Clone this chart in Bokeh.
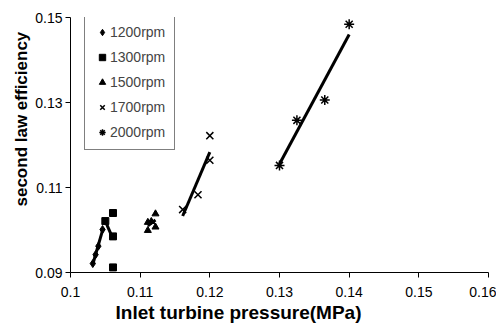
import numpy as np
from bokeh.plotting import figure
from bokeh.models import FixedTicker, Legend, LegendItem, Title, Range1d
from bokeh.embed import file_html
from bokeh.resources import INLINE

# ---- data ----
x_ticks = [0.10, 0.11, 0.12, 0.13, 0.14, 0.15, 0.16]
x_tick_labels = ["0.1", "0.11", "0.12", "0.13", "0.14", "0.15", "0.16"]
y_ticks = [0.09, 0.11, 0.13, 0.15]
y_tick_labels = ["0.09", "0.11", "0.13", "0.15"]

names = ["1200rpm", "1300rpm", "1500rpm", "1700rpm", "2000rpm"]

x_1200 = [0.1032, 0.1036, 0.1040, 0.1046]
y_1200 = [0.0921, 0.0942, 0.0962, 0.1001]

x_1300 = [0.1050, 0.1061, 0.1061, 0.1061]
y_1300 = [0.1021, 0.1040, 0.0985, 0.0912]

x_1500 = [0.1111, 0.1111, 0.1116, 0.1122, 0.1122]
y_1500 = [0.1018, 0.0999, 0.1020, 0.1038, 0.1007]

x_1700 = [0.1161, 0.1183, 0.1200, 0.1200]
y_1700 = [0.1048, 0.1083, 0.1164, 0.1222]

x_2000 = [0.1300, 0.1325, 0.1365, 0.1400]
y_2000 = [0.1152, 0.1258, 0.1306, 0.1484]

xs_all = [x_1200, x_1300, x_1500, x_1700, x_2000]
ys_all = [y_1200, y_1300, y_1500, y_1700, y_2000]
markers = ["diamond", "square", "triangle", "x", "asterisk"]
sizes = [8, 7, 7, 10, 10]

FONT = "Liberation Sans"

p = figure(width=496, height=323,
           x_range=Range1d(0.10, 0.16), y_range=Range1d(0.09, 0.15),
           output_backend="svg", toolbar_location=None,
           min_border_left=70, min_border_right=8,
           min_border_top=17, min_border_bottom=51)
p.outline_line_color = None
p.xgrid.visible = False
p.ygrid.visible = False
p.background_fill_color = "white"
p.border_fill_color = "white"

for ax, ticks, labels in ((p.xaxis[0], x_ticks, x_tick_labels), (p.yaxis[0], y_ticks, y_tick_labels)):
    ax.ticker = FixedTicker(ticks=ticks)
    ax.major_label_overrides = {t: l for t, l in zip(ticks, labels)}
    ax.minor_tick_line_color = None
    ax.major_tick_in = 0
    ax.major_tick_out = 5
    ax.axis_line_color = "black"
    ax.major_tick_line_color = "black"
    ax.major_label_text_font = FONT
    ax.major_label_text_font_size = "14px"
    ax.major_label_text_color = "black"
p.xaxis.major_label_standoff = 9
p.yaxis.major_label_standoff = 3

items = []
for name, xs, ys, mk, sz in zip(names, xs_all, ys_all, markers, sizes):
    slope, icpt = np.polyfit(xs, ys, 1)
    lx = np.array([min(xs), max(xs)])
    p.line(lx, slope * lx + icpt, line_color="black", line_width=3)
    r = p.scatter(xs, ys, marker=mk, size=sz, fill_color="black",
                  line_color="black", line_width=1.5 if mk in ("x", "asterisk") else 1)
    items.append(LegendItem(label=name, renderers=[r]))

legend = Legend(items=items, location=(14, 122),
                label_text_font=FONT, label_text_font_size="14px",
                label_height=16, glyph_height=16, glyph_width=16,
                spacing=9, padding=9, margin=0, label_standoff=0,
                border_line_color="black", border_line_width=1,
                background_fill_color="white", background_fill_alpha=1)
p.add_layout(legend)

xt = Title(text="Inlet turbine pressure(MPa)", align="left", offset=45,
           text_font=FONT, text_font_size="19px", text_font_style="bold",
           text_color="black", standoff=0)
p.add_layout(xt, "below")
yt = Title(text="second law efficiency", align="left", offset=66,
           text_font=FONT, text_font_size="17px", text_font_style="bold",
           text_color="black", standoff=3)
p.add_layout(yt, "left")

open("out.html", "w").write(file_html(p, INLINE))
